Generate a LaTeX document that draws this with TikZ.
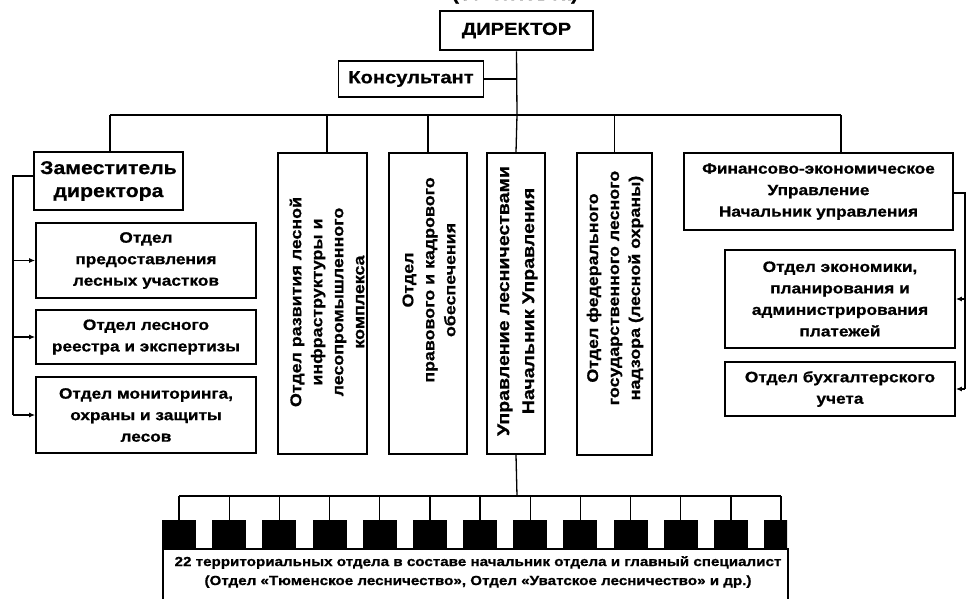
\documentclass[tikz,border=0pt]{standalone}
\usepackage{fontspec}
\setmainfont{Liberation Sans}
\newfontfamily\wfont{Liberation Sans}[FakeStretch=1.15,FakeBold=0.8]
\usetikzlibrary{arrows.meta,calc}
\begin{document}
\begin{tikzpicture}[x=1pt,y=-1pt,
  box/.style={draw,line width=1.6pt,inner sep=0pt,align=center,font=\wfont\bfseries\fontsize{15}{21.5}\selectfont},
  vtext/.style={rotate=90,align=center,inner sep=0pt,font=\wfont\bfseries\fontsize{15.5}{21}\selectfont},
  conn/.style={line width=1.3pt},
  arr/.style={line width=1.3pt,-{Latex[length=6pt,width=5pt]}},
  keyblk/.style={fill=black,draw=none,minimum width=34pt,minimum height=28pt,inner sep=0pt}
]
\useasboundingbox (0,0) rectangle (967,598);
\clip (0,0) rectangle (967,598);

\node[anchor=base,inner sep=0pt,font=\wfont\bfseries\fontsize{18}{22}\selectfont] (cnt) at (515,0) {(30 человек)};
\node[box,line width=2.6pt,minimum width=153pt,minimum height=39pt,font=\wfont\bfseries\fontsize{17.5}{20}\selectfont] (dir) at (516.5,30.5) {ДИРЕКТОР};
\node[box,minimum width=145pt,minimum height=36pt,font=\wfont\bfseries\fontsize{17.5}{20}\selectfont] (kons) at (411,79) {Консультант};
\node[box,minimum width=149pt,minimum height=58pt,font=\wfont\bfseries\fontsize{18.5}{23}\selectfont] (zam) at (108.5,181) {Заместитель\\директора};
\node[box,minimum width=220pt,minimum height=75pt] (o1) at (146,260.5) {Отдел\\предоставления\\лесных участков};
\node[box,minimum width=220pt,minimum height=54pt] (o2) at (146,337) {Отдел лесного\\реестра и экспертизы};
\node[box,minimum width=220pt,minimum height=76pt] (o3) at (146,415) {Отдел мониторинга,\\охраны и защиты\\лесов};

\node[box,minimum width=89pt,minimum height=301pt] (va) at (322.5,303.5) {};
\node[vtext] (vat) at (327,302) {Отдел развития лесной\\инфраструктуры и\\лесопромышленного\\комплекса};
\node[box,minimum width=78pt,minimum height=301pt] (vb) at (428,303.5) {};
\node[vtext] (vbt) at (429,280) {Отдел\\правового и кадрового\\обеспечения};
\node[box,minimum width=58pt,minimum height=301pt] (vc) at (516,303.5) {};
\node[vtext,font=\wfont\bfseries\fontsize{17}{25}\selectfont] (vct) at (517.5,301) {Управление лесничествами\\Начальник Управления};
\node[box,minimum width=75pt,minimum height=302pt] (vd) at (614.5,304) {};
\node[vtext] (vdt) at (615,288) {Отдел федерального\\государственного лесного\\надзора (лесной охраны)};

\node[box,minimum width=269pt,minimum height=77pt] (fin) at (818.5,191.5) {Финансово-экономическое\\Управление\\Начальник управления};
\node[box,minimum width=230pt,minimum height=98pt] (f1) at (840,299) {Отдел экономики,\\планирования и\\администрирования\\платежей};
\node[box,minimum width=230pt,minimum height=54pt] (f2) at (840,389) {Отдел бухгалтерского\\учета};

\node[box,minimum width=625pt,minimum height=70pt,anchor=north west] (terr) at (162,548) {};
\node[inner sep=0pt,align=center,font=\wfont\bfseries\fontsize{13.2}{19}\selectfont] (terrt) at (478,572) {22 территориальных отдела в составе начальник отдела и главный специалист\\(Отдел «Тюменское лесничество», Отдел «Уватское лесничество» и др.)};
\begin{scope}
\clip (162,500) rectangle (787,560);
\foreach \i in {0,...,12} \node[keyblk,anchor=south] (k\i) at ({179+50.17*\i},548) {};
\end{scope}

% top bus
\coordinate (bus1) at (517,115);
\coordinate (bL) at (110,115);
\coordinate (bA) at (327,115);
\coordinate (bR) at (841,115);
\draw[conn] (dir.south) -- (bus1);
\draw[conn] (kons.east) -- (kons.east -| dir.south);
\draw[conn] (bL) -- (bR);
\draw[conn] (bL) -- (bL |- zam.north);
\draw[conn] (bA) -- (bA |- va.north);
\draw[conn] (vb.north |- bus1) -- (vb.north);
\draw[conn] (bus1) -- (vc.north);
\draw[conn] (vd.north |- bus1) -- (vd.north);
\draw[conn] (bR) -- (bR |- fin.north);

% left bracket
\coordinate (lx) at (13,176);
\draw[conn] (zam.west |- lx) -- (lx) -- (lx |- o3.west);
\draw[arr] (lx |- o1.west) -- (o1.west);
\draw[arr] (lx |- o2.west) -- (o2.west);
\draw[arr] (lx |- o3.west) -- (o3.west);

% right bracket
\coordinate (rx) at (965,193);
\draw[conn] (fin.east |- rx) -- (rx) -- (rx |- f2.east);
\draw[arr] (rx |- f1.east) -- (f1.east);
\draw[arr] (rx |- f2.east) -- (f2.east);

% bottom bus
\coordinate (bus2) at (517,496);
\draw[conn] (vc.south) -- (bus2);
\draw[conn] (k0.north |- bus2) -- (k12.north |- bus2);
\foreach \i in {0,...,12} \draw[conn] (k\i.north |- bus2) -- (k\i.north);
\end{tikzpicture}
\end{document}
